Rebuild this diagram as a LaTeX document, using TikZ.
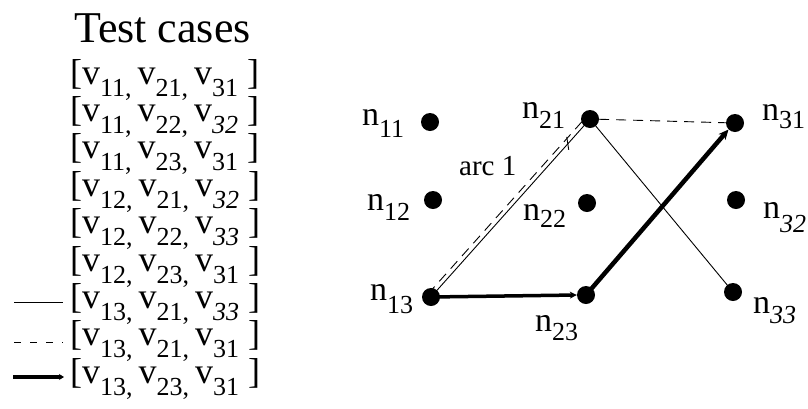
\documentclass[tikz,border=0pt]{standalone}
\usepackage{fontspec}
\setmainfont{Liberation Serif}
\usetikzlibrary{arrows.meta}
\newcommand\rowfont{\fontsize{36}{36}\selectfont}
\newcommand\subfont{\fontsize{26}{26}\selectfont}
\newcommand\vs[1]{v\raisebox{-12pt}{\subfont #1}}
\newcommand\nl[2]{n\raisebox{-#2pt}{\subfont #1}}
\newcommand\gp{\hspace{6pt}}
\tikzset{
  dot/.style={circle, fill=black, inner sep=0pt, minimum size=18pt},
  row/.style={anchor=base west, inner sep=0pt, font=\rowfont},
  lab/.style={anchor=base west, inner sep=0pt, font=\fontsize{34}{34}\selectfont},
  thinl/.style={line width=0.9pt},
  dashl/.style={line width=0.9pt, dash pattern=on 10pt off 7pt},
}
\begin{document}
\begin{tikzpicture}[x=1pt,y=-1pt]
\useasboundingbox (0,0) rectangle (808,408);
% title
\node[anchor=base west, inner sep=0pt, font=\fontsize{44}{44}\selectfont] (title) at (74,42) {Test cases};
% rows
\node[row] (r1) at (70,84) {[\vs{11,}\gp\vs{21,}\gp\vs{31}\ ]};
\node[row] (r2) at (70,121.4) {[\vs{11,}\gp\vs{22,}\gp\vs{\textit{32}}\ ]};
\node[row] (r3) at (70,158.8) {[\vs{11,}\gp\vs{23,}\gp\vs{31}\ ]};
\node[row] (r4) at (70,196.2) {[\vs{12,}\gp\vs{21,}\gp\vs{\textit{32}}\ ]};
\node[row] (r5) at (70,233.6) {[\vs{12,}\gp\vs{22,}\gp\vs{\textit{33}}\ ]};
\node[row] (r6) at (70,271) {[\vs{12,}\gp\vs{23,}\gp\vs{31}\ ]};
\node[row] (r7) at (70,308.4) {[\vs{13,}\gp\vs{21,}\gp\vs{\textit{33}}\ ]};
\node[row] (r8) at (70,345.8) {[\vs{13,}\gp\vs{21,}\gp\vs{31}\ ]};
\node[row] (r9) at (70,383.2) {[\vs{13,}\gp\vs{23,}\gp\vs{31}\ ]};
% legend lines
\coordinate (la1) at (14,302); \coordinate (lb1) at (63,302);
\coordinate (la2) at (14,342); \coordinate (lb2) at (63,342);
\coordinate (la3) at (13,377); \coordinate (lb3) at (64,377);
\draw[thinl] (la1) -- (lb1);
\draw[dashl, dash pattern=on 7pt off 9pt] (la2) -- (lb2);
\draw[line width=4pt, -{Stealth[length=5pt,width=6pt]}] (la3) -- (lb3);
% dots
\node[dot] (n11) at (430,122) {};
\node[dot] (n12) at (433,200) {};
\node[dot] (n13) at (431,297) {};
\node[dot] (n21) at (590,119) {};
\node[dot] (n22) at (587,203) {};
\node[dot] (n23) at (586,295) {};
\node[dot] (n31) at (735,123) {};
\node[dot] (n32) at (736,200) {};
\node[dot] (n33) at (733,292) {};
% labels
\node[lab] (t11) at (362,125) {\nl{11}{12}};
\node[lab] (t12) at (367,210) {\nl{12}{10}};
\node[lab] (t13) at (370,300) {\nl{13}{13}};
\node[lab] (t21) at (522,118) {\nl{21}{10}};
\node[lab] (t22) at (523,220) {\nl{22}{7}};
\node[lab] (t23) at (535,331) {\nl{23}{9}};
\node[lab] (t31) at (762,120) {\nl{31}{8}};
\node[lab] (t32) at (763,218) {\nl{\textit{32}}{14}};
\node[lab] (t33) at (753,313) {\nl{\textit{33}}{10}};
\node[anchor=base west, inner sep=0pt, font=\fontsize{29}{29}\selectfont] (arc) at (459,175) {arc 1};
% edges
\draw[thinl] (n13.center) -- (n21.center);
\draw[dashl] ([shift={(-3,-3)}]n13.center) -- ([shift={(-3,-3)}]n21.center);
\path (n13.center) -- (n21.center) coordinate[pos=0.86] (tk);
\draw[thinl] ([shift={(-1,-7)}]tk) -- ([shift={(1,6)}]tk);
\draw[dashl] (n21) -- (n31);
\draw[thinl] (n21.center) -- (n33.center);
\draw[line width=3.5pt, -{Stealth[length=7pt,width=7pt]}] (n13.center) -- (n23.west);
\draw[line width=4.5pt, -{Stealth[length=10pt,width=9pt]}] (n23.center) -- (n31.south west);
\end{tikzpicture}
\end{document}
